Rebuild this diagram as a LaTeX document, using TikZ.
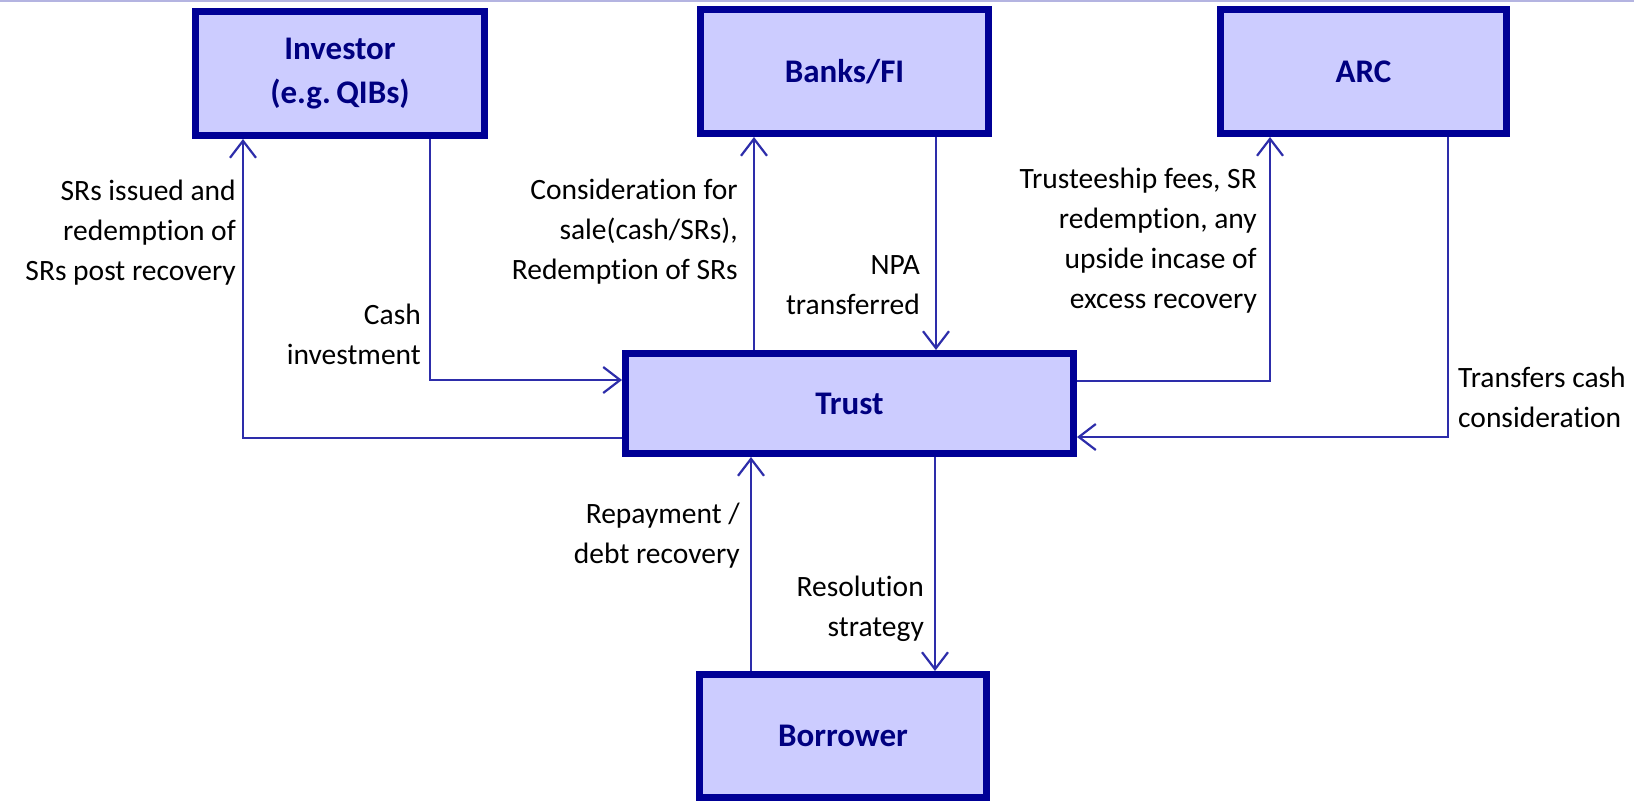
\documentclass[tikz,border=0pt]{standalone}
\usepackage{fontspec}
\setmainfont[Ligatures=NoCommon]{Carlito}
\usetikzlibrary{arrows.meta}
\definecolor{boxfill}{RGB}{204,204,255}
\definecolor{boxborder}{RGB}{0,0,150}
\definecolor{boxtext}{RGB}{0,0,128}
\definecolor{connblue}{RGB}{45,45,170}
\definecolor{toplav}{RGB}{180,180,225}
\tikzset{
  entity/.style={draw=boxborder, fill=boxfill, line width=7pt, text=boxtext,
    font=\bfseries\fontsize{33}{44}\selectfont, align=center, inner sep=0pt},
  lab/.style={font=\fontsize{29.5}{40}\selectfont, inner sep=0pt, text=black},
  labr/.style={lab, align=right, anchor=east},
  labl/.style={lab, align=left, anchor=west},
  flow/.style={draw=connblue, line width=2.2pt,
    -{Straight Barb[length=17pt,width=26pt]}},
}
\begin{document}
\begin{tikzpicture}[x=1pt,y=-1pt]
\useasboundingbox (0,0) rectangle (1634,801);
\fill[white] (0,0) rectangle (1634,801);
\draw[toplav, line width=1.6pt] (0,0.8) -- (1634,0.8);

\node[entity, minimum width=289pt, minimum height=124pt] (inv) at (340,73.5) {Investor\\(e.g.\,QIBs)};
\node[entity, minimum width=288pt, minimum height=124pt] (banks) at (844.5,71.5) {Banks/FI};
\node[entity, minimum width=286pt, minimum height=124pt] (arc) at (1363.5,71.5) {ARC};
\node[entity, minimum width=448pt, minimum height=100pt] (trust) at (849.5,403.5) {Trust};
\node[entity, minimum width=287pt, minimum height=123pt] (bor) at (843,736) {Borrower};

% connectors
\draw[flow] (trust.west |- 0,438) -| (inv.south -| 243,0);
\draw[flow] (inv.south -| 430,0) |- (trust.west |- 0,380);
\draw[flow] (trust.north -| 754,0) -- (banks.south -| 754,0);
\draw[flow] (banks.south -| 936,0) -- (trust.north -| 936,0);
\draw[flow] (trust.east |- 0,381) -| (arc.south -| 1270,0);
\draw[flow] (arc.south -| 1448,0) |- (trust.east |- 0,437);
\draw[flow] (bor.north -| 751,0) -- (trust.south -| 751,0);
\draw[flow] (trust.south -| 935,0) -- (bor.north -| 935,0);

% labels
\node[labr] (l1) at (236,232.5) {SRs issued and\\redemption of\\SRs post recovery};
\node[labr] (l2) at (421,334.5) {Cash\\investment};
\node[labr] (l3) at (738,232) {Consideration for\\sale(cash/SRs),\\Redemption of SRs};
\node[labr] (l4) at (920,285) {NPA\\transferred};
\node[labr] (l5) at (1257,241) {Trusteeship fees, SR\\redemption, any\\upside incase of\\excess recovery};
\node[labl] (l6) at (1458,397.5) {Transfers cash\\consideration};
\node[labr] (l7) at (740,536) {Repayment /\\debt recovery};
\node[labr] (l8) at (924,609) {Resolution\\strategy};
\end{tikzpicture}
\end{document}
